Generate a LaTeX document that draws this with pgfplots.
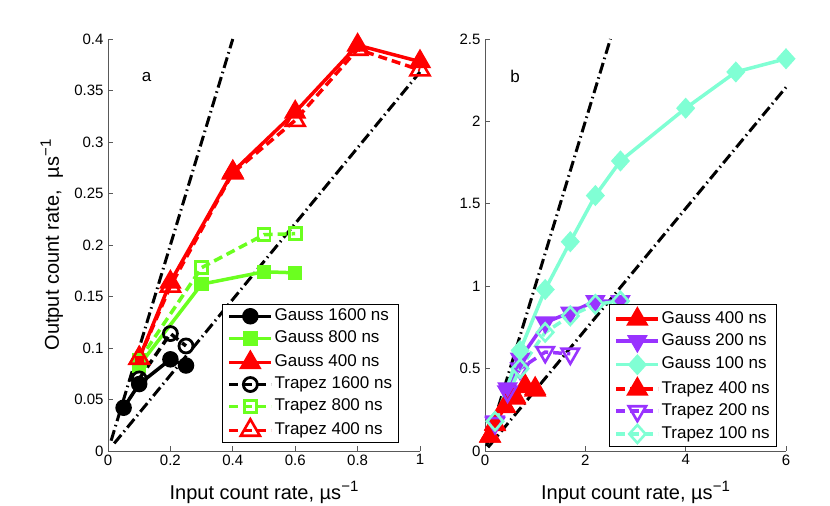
\documentclass[border=0pt]{standalone}
\usepackage{fontspec}
\setmainfont{Liberation Sans}
\usepackage{pgfplots}
\pgfplotsset{compat=1.18}
\definecolor{mgreen}{rgb}{0.42,1,0.12}
\definecolor{mpurple}{rgb}{0.6,0.2,1}
\definecolor{maqua}{rgb}{0.5,1,0.83}
\newcommand{\usinv}{µs\raisebox{0.75ex}{\fontsize{15}{15}\selectfont −1}}
\pgfplotsset{
 mystyle/.style={
  scale only axis,
  axis x line*=bottom, axis y line*=left,
  tick align=inside,
  major tick length=4.5pt,
  every tick/.style={black!65, line width=0.8pt},
  axis line style={line width=0.8pt, black!65},
  tick label style={font=\fontsize{15}{15}\selectfont},
  yticklabel style={xshift=-1pt},
  /pgf/number format/assume math mode=true,
  /pgf/number format/fixed,
  /pgf/number format/precision=2,
  label style={font=\fontsize{20}{20}\selectfont},
  xlabel style={at={(axis description cs:0.5,-0.117)}, anchor=base},
  legend cell align=left,
  legend style={font=\fontsize{17}{17}\selectfont, draw=black, line width=1pt,
    nodes={inner sep=1.5pt, text height=12pt, text depth=3.5pt},
    row sep=3.5pt, inner xsep=5pt, inner ysep=3pt,
    /tikz/every even column/.append style={column sep=3.5pt}},
  legend image code/.code={\draw[mark repeat=2,mark phase=2] plot coordinates {(0pt,0pt) (21pt,0pt) (42pt,0pt)};},
  clip=false,
 },
 dd/.style={black, line width=3pt, dash pattern=on 11pt off 4pt on 1.5pt off 4pt, forget plot},
 sol/.style={line width=3.5pt, solid},
 das/.style={line width=3.5pt, dash pattern=on 9pt off 5pt},
}
\begin{document}
\begin{tikzpicture}
\useasboundingbox (0,0) rectangle (830pt,506pt);
\begin{axis}[mystyle,
  at={(108pt,55pt)}, anchor=south west,
  width=312pt, height=412pt,
  xmin=0, xmax=1, ymin=0, ymax=0.4,
  xtick={0,0.2,0.4,0.6,0.8,1},
  ytick={0,0.05,0.1,0.15,0.2,0.25,0.3,0.35,0.4},
  yticklabels={0,0.05,0.1,0.15,0.2,0.25,0.3,0.35,0.4},
  xticklabels={0,0.2,0.4,0.6,0.8,1},
  xlabel={Input count rate, \usinv},
  ylabel={Output count rate,\hspace{0.6em}\usinv},
  ylabel style={at={(axis description cs:-0.18,0.5)}, anchor=center},
  legend style={at={(0.933,0.0194)}, anchor=south east},
]
\addplot[dd] coordinates {(0.01,0.01) (0.4,0.4)};
\addplot[dd] coordinates {(0.02,0.0074) (1,0.368)};
\addplot[sol, black, mark=*, mark size=7.5pt, mark options={solid, line width=1.5pt}] coordinates {(0.05,0.042)(0.1,0.065)(0.2,0.089)(0.25,0.083)};
\addlegendentry{Gauss 1600 ns}
\addplot[sol, mgreen, mark=square*, mark size=6.5pt, mark options={solid, line width=1.5pt}] coordinates {(0.1,0.083)(0.3,0.162)(0.5,0.174)(0.6,0.173)};
\addlegendentry{Gauss 800 ns}
\addplot[sol, red, mark=triangle*, mark size=11.5pt, mark options={solid, line width=1.5pt}] coordinates {(0.1,0.090)(0.2,0.164)(0.4,0.271)(0.6,0.329)(0.8,0.394)(1.0,0.378)};
\addlegendentry{Gauss 400 ns}
\addplot[das, black, mark=o, mark size=7pt, mark options={solid, line width=2.8pt}] coordinates {(0.1,0.070)(0.2,0.114)(0.25,0.102)};
\addlegendentry{Trapez 1600 ns}
\addplot[das, mgreen, mark=square, mark size=6pt, mark options={solid, line width=2.8pt}] coordinates {(0.1,0.088)(0.3,0.178)(0.5,0.210)(0.6,0.211)};
\addlegendentry{Trapez 800 ns}
\addplot[das, red, mark=triangle, mark size=11pt, mark options={solid, line width=2.6pt}] coordinates {(0.1,0.090)(0.2,0.160)(0.4,0.270)(0.6,0.321)(0.8,0.390)(1.0,0.370)};
\addlegendentry{Trapez 400 ns}
\node[font=\fontsize{17}{17}\selectfont] at (axis cs:0.124,0.363) {a};
\end{axis}
\begin{axis}[mystyle,
  at={(485pt,55pt)}, anchor=south west,
  width=301pt, height=412pt,
  xmin=0, xmax=6, ymin=0, ymax=2.5,
  xtick={0,2,4,6},
  ytick={0,0.5,1,1.5,2,2.5},
  yticklabels={0,0.5,1,1.5,2,2.5},
  xticklabels={0,2,4,6},
  xlabel={Input count rate, \usinv},
  legend style={at={(0.969,0.0104)}, anchor=south east},
]
\addplot[dd] coordinates {(0.03,0.03) (2.5,2.5)};
\addplot[dd] coordinates {(0.06,0.022) (6,2.207)};
\addplot[sol, red, mark=triangle*, mark size=11.5pt, mark options={solid, line width=1.5pt}] coordinates {(0.1,0.090)(0.2,0.164)(0.4,0.271)(0.6,0.329)(0.8,0.394)(1.0,0.378)};
\addlegendentry{Gauss 400 ns}
\addplot[sol, mpurple, mark=triangle*, mark size=10.5pt, mark options={solid, line width=1.5pt, rotate=180}] coordinates {(0.2,0.18)(0.45,0.38)(0.7,0.56)(1.2,0.78)(1.7,0.84)(2.2,0.91)(2.7,0.91)};
\addlegendentry{Gauss 200 ns}
\addplot[sol, maqua, mark=diamond*, mark size=9.5pt, mark options={solid, line width=1.5pt, xscale=1.2}] coordinates {(0.2,0.18)(0.7,0.61)(1.2,0.98)(1.7,1.27)(2.2,1.55)(2.7,1.76)(4,2.08)(5,2.30)(6,2.38)};
\addlegendentry{Gauss 100 ns}
\addplot[das, red, mark=triangle*, mark size=11.5pt, mark options={solid, line width=1.5pt}] coordinates {(0.1,0.090)(0.2,0.160)(0.4,0.270)(0.6,0.321)(0.8,0.390)(1.0,0.370)};
\addlegendentry{Trapez 400 ns}
\addplot[das, mpurple, mark=triangle, mark size=10pt, mark options={solid, line width=2.6pt, rotate=180}] coordinates {(0.2,0.17)(0.45,0.36)(0.7,0.50)(1.2,0.60)(1.7,0.59)};
\addlegendentry{Trapez 200 ns}
\addplot[das, maqua, mark=diamond, mark size=9pt, mark options={solid, line width=2.6pt, xscale=1.2}] coordinates {(0.2,0.18)(0.7,0.50)(1.2,0.72)(1.7,0.82)(2.2,0.89)(2.7,0.91)};
\addlegendentry{Trapez 100 ns}
\node[font=\fontsize{17}{17}\selectfont] at (axis cs:0.6,2.27) {b};
\end{axis}
\end{tikzpicture}
\end{document}
